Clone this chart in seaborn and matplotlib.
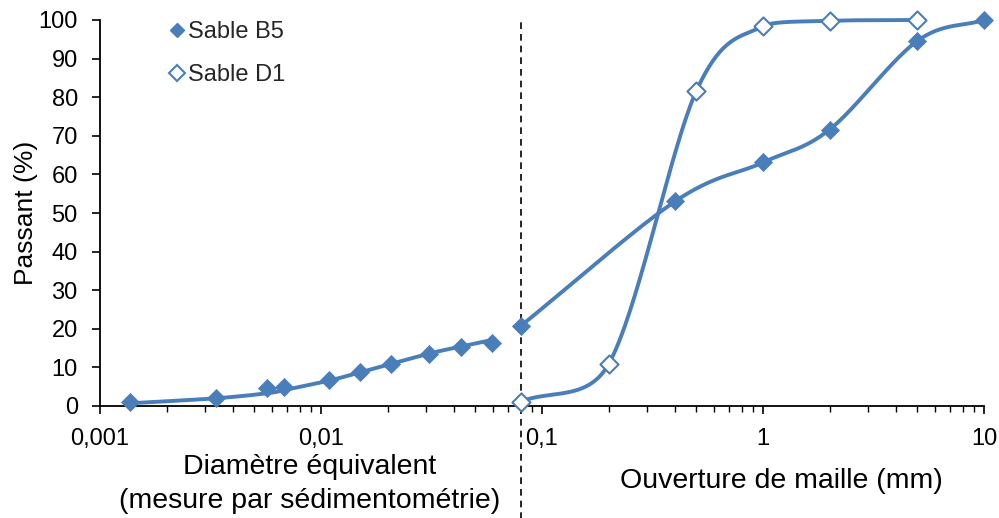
import numpy as np
import pandas as pd
import matplotlib
matplotlib.use("Agg")
import matplotlib.pyplot as plt
import matplotlib.transforms as mtransforms
from matplotlib.lines import Line2D
import seaborn as sns

# ---- data ----
b5_sed_x = [0.00136, 0.00335, 0.0057, 0.0068, 0.0109, 0.015, 0.0207, 0.0309, 0.0428, 0.0594]
b5_sed_y = [1.0, 2.2, 4.6, 4.8, 6.8, 8.8, 10.9, 13.6, 15.3, 16.2]
b5_sed_curve_y = [0.7, 2.0, 3.3, 4.1, 6.6, 8.7, 10.9, 13.6, 15.4, 17.1]

b5_sieve_x = [0.08, 0.4, 1, 2, 5, 10]
b5_sieve_y = [20.7, 53.0, 63.1, 71.6, 94.6, 100.0]

d1_x = [0.08, 0.2, 0.5, 1, 2, 5]
d1_y = [1.1, 10.8, 81.7, 98.4, 99.8, 100.0]

x_ticks = [0.001, 0.01, 0.1, 1, 10]
x_ticklabels = ["0,001", "0,01", "0,1", "1", "10"]
y_ticks = list(range(0, 101, 10))
separator_x = 0.08

series_names = ["Sable B5", "Sable D1"]
color = "#4A7EBB"

# approximate screen scale (px per decade, px per unit) used for the smoothing
PX_DEC = 221.0
PX_UNIT = 3.86


def _limit(p, arm, lo, hi):
    """Shorten a control arm (keeping its direction) so the control point stays in [lo, hi]."""
    s = 1.0
    for k in range(2):
        c = p[k] + arm[k]
        if c > hi[k] and arm[k] != 0:
            s = min(s, (hi[k] - p[k]) / arm[k])
        if c < lo[k] and arm[k] != 0:
            s = min(s, (lo[k] - p[k]) / arm[k])
    return p + arm * max(s, 0.0)


def smooth(xs, ys, n=60):
    """Excel-like smoothed line: Catmull-Rom Bezier in screen space, control arms
    shortened so that they stay inside each segment's bounding box (no overshoot)."""
    P = np.column_stack([np.log10(np.asarray(xs, float)) * PX_DEC,
                         np.asarray(ys, float) * PX_UNIT])
    m = len(P)
    out = []
    for i in range(m - 1):
        p1, p2 = P[i], P[i + 1]
        p0 = P[i - 1] if i > 0 else 2 * p1 - p2
        p3 = P[i + 2] if i + 2 < m else 2 * p2 - p1
        lo = np.minimum(p1, p2)
        hi = np.maximum(p1, p2)
        c1 = _limit(p1, (p2 - p0) / 6.0, lo, hi)
        c2 = _limit(p2, -(p3 - p1) / 6.0, lo, hi)
        t = np.linspace(0, 1, n)[:, None]
        seg = ((1 - t) ** 3) * p1 + 3 * ((1 - t) ** 2) * t * c1 + 3 * (1 - t) * t ** 2 * c2 + t ** 3 * p2
        out.append(seg if not out else seg[1:])
    seg = np.vstack(out)
    return 10 ** (seg[:, 0] / PX_DEC), seg[:, 1] / PX_UNIT


sns.set_theme(style="white")
plt.rcParams["font.family"] = ["Liberation Sans", "DejaVu Sans"]

fig = plt.figure(figsize=(9.99, 5.18), dpi=100)
ax = fig.add_axes([100 / 999, 1 - 406 / 518, (984 - 100) / 999, (406 - 20) / 518])

# smooth lines
for xs, ys in [(b5_sed_x, b5_sed_curve_y), (b5_sieve_x, b5_sieve_y), (d1_x, d1_y)]:
    sx, sy = smooth(xs, ys)
    df = pd.DataFrame({"x": sx, "y": sy})
    sns.lineplot(data=df, x="x", y="y", sort=False, estimator=None, color=color,
                 linewidth=2.8, ax=ax, zorder=2)
for ln in ax.lines:
    ln.set_clip_on(False)

# markers
b5_df = pd.DataFrame({"x": b5_sed_x + b5_sieve_x, "y": b5_sed_y + b5_sieve_y})
d1_df = pd.DataFrame({"x": d1_x, "y": d1_y})
sns.scatterplot(data=b5_df, x="x", y="y", marker="D", s=85, color=color,
                edgecolor=color, linewidth=0.5, ax=ax, zorder=3, clip_on=False)
sns.scatterplot(data=d1_df, x="x", y="y", marker="D", s=85, facecolor="white",
                edgecolor=color, linewidth=1.5, ax=ax, zorder=3, clip_on=False)

ax.set_xscale("log")
ax.set_xlim(0.001, 10)
ax.set_ylim(0, 100)
ax.set_xticks(x_ticks)
ax.set_xticklabels(x_ticklabels)
ax.set_yticks(y_ticks)
ax.xaxis.set_minor_locator(matplotlib.ticker.LogLocator(base=10, subs=np.arange(2, 10)))
ax.xaxis.set_minor_formatter(matplotlib.ticker.NullFormatter())

for s in ["top", "right"]:
    ax.spines[s].set_visible(False)
for s in ["left", "bottom"]:
    ax.spines[s].set_color("black")
    ax.spines[s].set_linewidth(1.3)

ax.tick_params(axis="both", which="major", direction="out", length=6, width=1.2,
               color="black", labelsize=17, labelcolor="black", bottom=True, left=True)
ax.tick_params(axis="x", which="minor", direction="out", length=4, width=1.0,
               color="black", bottom=True)
ax.tick_params(axis="x", pad=10)
ax.tick_params(axis="y", pad=10)
ax.set_xlabel("")
ax.set_ylabel("Passant (%)", fontsize=19, color="black", labelpad=0)

# vertical dashed separator extending below the axis
trans = mtransforms.blended_transform_factory(ax.transData, ax.transAxes)
ax.plot([separator_x, separator_x], [-0.30, 1.0], transform=trans, color="black",
        linestyle=(0, (4, 3)), linewidth=1.2, clip_on=False, zorder=1)

# bottom labels
fig.text(310 / 999, 1 - 467 / 518, "Diamètre équivalent", ha="center", va="center",
         fontsize=20.5, color="black")
fig.text(310 / 999, 1 - 501 / 518, "(mesure par sédimentométrie)", ha="center", va="center",
         fontsize=20.5, color="black")
fig.text(781 / 999, 1 - 481 / 518, "Ouverture de maille (mm)", ha="center", va="center",
         fontsize=20.5, color="black")

# legend
handles = [
    Line2D([], [], marker="D", linestyle="none", markersize=7, color=color, markeredgecolor=color),
    Line2D([], [], marker="D", linestyle="none", markersize=8, markerfacecolor="white",
           markeredgecolor=color, markeredgewidth=1.5),
]
ax.legend(handles, series_names, loc="upper left", bbox_to_anchor=(0.055, 1.052),
          frameon=False, fontsize=17, handlelength=0.6, handletextpad=0.15,
          labelspacing=0.9)

fig.savefig("out.png", dpi=100)
